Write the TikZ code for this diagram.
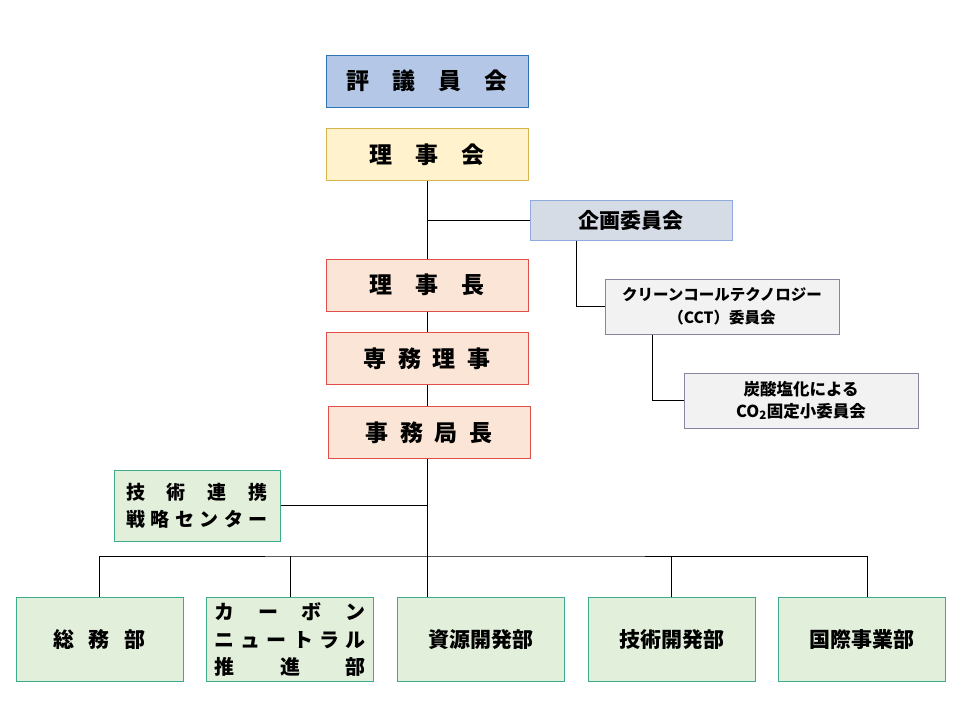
\documentclass[tikz,border=0pt]{standalone}
\usepackage{fontspec}
\setmainfont{Noto Sans CJK JP}
\usetikzlibrary{positioning,calc}
\definecolor{hyogifill}{HTML}{B4C7E7}
\definecolor{hyogiline}{HTML}{2E75B6}
\definecolor{rijifill}{HTML}{FFF2CC}
\definecolor{rijiline}{HTML}{D9B44A}
\definecolor{redfill}{HTML}{FBE5D6}
\definecolor{redline}{HTML}{E0504A}
\definecolor{kikakufill}{HTML}{D6DCE5}
\definecolor{kikakuline}{HTML}{8FAADC}
\definecolor{subfill}{HTML}{F2F2F2}
\definecolor{subline}{HTML}{8A84A0}
\definecolor{greenfill}{HTML}{E2EFDA}
\definecolor{greenline}{HTML}{3DAA8C}

\begin{document}
\begin{tikzpicture}[x=1pt,y=-1pt,line width=1pt,
  box/.style={draw,line width=1pt,inner sep=0pt},
  topbox/.style={box,minimum width=202pt,minimum height=52pt,
    font=\fontsize{23}{28}\selectfont\bfseries},
  redbox/.style={topbox,fill=redfill,draw=redline},
  kikakubox/.style={box,fill=kikakufill,draw=kikakuline,minimum width=202pt,
    minimum height=40pt,font=\fontsize{21}{24}\selectfont\bfseries},
  subbox/.style={box,fill=subfill,draw=subline,minimum width=234pt,
    minimum height=55pt,align=center,font=\fontsize{15.5}{23}\selectfont\bfseries},
  greenbox/.style={box,fill=greenfill,draw=greenline,minimum width=167pt,
    minimum height=84pt,font=\fontsize{21}{24}\selectfont\bfseries}]
  \useasboundingbox (0,0) rectangle (960,720);

  % top of the chart
  \node[topbox,fill=hyogifill,draw=hyogiline] (hyogi) at (427,81) {評　議　員　会};
  \node[topbox,fill=rijifill,draw=rijiline] (rijikai) at (427,154.5) {理　事　会};
  \node[redbox] (richo) at (427,285) {理　事　長};
  \node[redbox] (senmu) at (427,358.5) {専\hspace{.5em}務\hspace{.5em}理\hspace{.5em}事};
  \node[redbox] (kyokucho) at (429,432.5) {事\hspace{.5em}務\hspace{.5em}局\hspace{.5em}長};

  % committees
  \node[kikakubox] (kikaku) at (631,220) {企画委員会};
  \node[subbox] (cct) at (722,306.5) {クリーンコールテクノロジー\\（CCT）委員会};
  \node[subbox,font=\fontsize{16.5}{22}\selectfont\bfseries] (tansan) at (801,400.5)
    {炭酸塩化による\\CO\textsubscript{2}固定小委員会};

  % center and departments
  \node[greenbox,minimum width=166pt,minimum height=71pt,align=left,
    font=\fontsize{19}{27}\selectfont\bfseries] (senryaku) at (197,505.5)
    {\makebox[142pt][s]{技\hfill 術\hfill 連\hfill 携}\\
     \makebox[142pt][s]{戦\hfill 略\hfill セ\hfill ン\hfill タ\hfill ー}};
  \node[greenbox] (soumu) at (99.5,639.5) {総\hspace{.7em}務\hspace{.7em}部};
  \node[greenbox,align=left,font=\fontsize{20}{27.5}\selectfont\bfseries] (carbon) at (290,639.5)
    {\makebox[151pt][s]{カ\hfill ー\hfill ボ\hfill ン}\\
     \makebox[151pt][s]{ニ\hfill ュ\hfill ー\hfill ト\hfill ラ\hfill ル}\\
     \makebox[151pt][s]{推\hfill 進\hfill 部}};
  \node[greenbox] (shigen) at (480.5,639.5) {資源開発部};
  \node[greenbox] (gijutsu) at (671.5,639.5) {技術開発部};
  \node[greenbox] (kokusai) at (862,639.5) {国際事業部};

  \coordinate (bus) at (427,556);

  % connectors
  \draw (rijikai.south) -- (richo.north);
  \draw (richo.south) -- (senmu.north);
  \draw (senmu.south) -- (senmu.south |- kyokucho.north);
  \draw (senmu.south |- kyokucho.south) -- (bus);
  \draw (kikaku.west -| rijikai.south) -- (kikaku.west);
  \draw ($(kikaku.south west)+(47,0)$) |- (cct.west);
  \draw ($(cct.south west)+(48,0)$) |- (tansan.west);
  \draw (senryaku.east) -- (senryaku.east -| bus);
  \draw (soumu.north) |- (bus) -| ($(kokusai.north)+(5,0)$);
  \draw (carbon.north) -- (carbon.north |- bus);
  \draw (bus) -- (bus |- shigen.north);
  \draw (gijutsu.north) -- (gijutsu.north |- bus);
\end{tikzpicture}
\end{document}
